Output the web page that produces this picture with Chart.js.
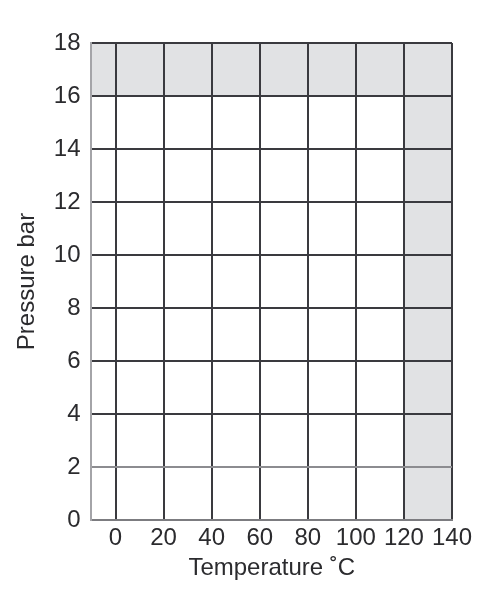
<!DOCTYPE html>
<html>
<head>
<meta charset="utf-8">
<script src="https://cdn.jsdelivr.net/npm/chart.js@4"></script>
<style>
  html, body { margin: 0; padding: 0; background: #fff; }
  #wrap { width: 503px; height: 607px; }
</style>
</head>
<body>
<div id="wrap"><canvas id="pressureChart"></canvas></div>
<script>
const xTicks = [0, 20, 40, 60, 80, 100, 120, 140];
const yTicks = [0, 2, 4, 6, 8, 10, 12, 14, 16, 18];
const xRange = [-10, 140];
const yRange = [0, 18];

// shaded zones
const topBandX = [-10, 140];
const topBandY = [18, 18];
const topBandBase = 16;
const rightBandX = [120, 140];
const rightBandY = [18, 18];

const shade = "#e1e2e4";
const lineDark = "#3a3a3f";

const toPoints = (xs, ys) => xs.map((x, i) => ({ x: x, y: ys[i] }));

Chart.defaults.font.family = "'Liberation Sans', Arial, sans-serif";
Chart.defaults.font.size = 24;
Chart.defaults.color = "#2b2b2e";

const ctx = document.getElementById("pressureChart");
new Chart(ctx, {
  type: "line",
  data: {
    datasets: [
      {
        label: "top",
        data: toPoints(topBandX, topBandY),
        borderWidth: 0,
        pointRadius: 0,
        backgroundColor: shade,
        fill: { value: topBandBase },
      },
      {
        label: "right",
        data: toPoints(rightBandX, rightBandY),
        borderWidth: 0,
        pointRadius: 0,
        backgroundColor: shade,
        fill: "origin",
      },
    ],
  },
  options: {
    responsive: true,
    maintainAspectRatio: false,
    animation: false,
    layout: { padding: { top: 43, right: 51, bottom: 27, left: 6 } },
    scales: {
      x: {
        type: "linear",
        min: xRange[0],
        max: xRange[1],
        afterBuildTicks: (scale) => {
          scale.ticks = xTicks.map((v) => ({ value: v }));
        },
        grid: { color: lineDark, lineWidth: 2, drawTicks: false },
        border: { color: "#7c7c80", width: 2 },
        ticks: { padding: 6, maxRotation: 0, autoSkip: false, font: { lineHeight: 1 } },
        title: {
          display: true,
          text: "Temperature ˚C",
          font: { lineHeight: 1 },
          padding: { top: 0, bottom: 0 },
        },
      },
      y: {
        min: yRange[0],
        max: yRange[1],
        afterBuildTicks: (scale) => {
          scale.ticks = yTicks.map((v) => ({ value: v }));
        },
        grid: {
          color: (c) => (c.tick && c.tick.value === 2 ? "#8c8c90" : lineDark),
          lineWidth: 2,
          drawTicks: false,
        },
        border: { color: "#a4a4a8", width: 2 },
        ticks: { padding: 11 },
        title: { display: true, text: "Pressure bar", padding: { top: 7, bottom: 1 } },
      },
    },
    plugins: {
      legend: { display: false },
      tooltip: { enabled: false },
      filler: { drawTime: "beforeDraw" },
    },
  },
});
</script>
</body>
</html>
